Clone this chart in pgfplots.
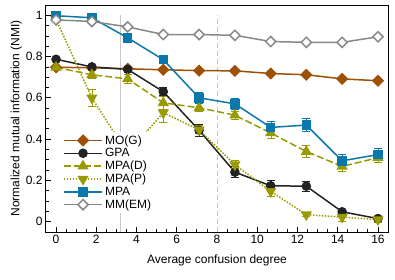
\documentclass[border=0pt]{standalone}
\usepackage{fontspec}
\setmainfont{Liberation Sans}
\usepackage{pgfplots}
\pgfplotsset{compat=1.18}
\usepackage{pgfplotstable}

\definecolor{cbrown}{RGB}{158,80,5}
\definecolor{cblack}{RGB}{34,34,34}
\definecolor{colive}{RGB}{153,153,0}
\definecolor{cblue}{RGB}{10,120,170}
\definecolor{cgray}{RGB}{136,136,136}
\definecolor{cvline}{RGB}{200,200,200}

\pgfplotstableread{
x     mog   mogE  gpa   gpaE  mpad  mpadE mpap  mpapE mpa   mpaE  mm    mmE
0     0.748 0.006 0.787 0.008 0.748 0.010 0.980 0.010 0.998 0.006 0.978 0.006
1.78  0.746 0.006 0.750 0.008 0.712 0.020 0.600 0.040 0.988 0.008 0.970 0.006
3.56  0.741 0.006 0.738 0.010 0.692 0.020 0.330 0.030 0.891 0.010 0.944 0.006
5.33  0.736 0.006 0.630 0.020 0.576 0.030 0.528 0.045 0.785 0.015 0.907 0.006
7.11  0.732 0.006 0.443 0.030 0.552 0.020 0.445 0.020 0.600 0.025 0.907 0.006
8.89  0.731 0.006 0.240 0.025 0.516 0.020 0.276 0.020 0.571 0.025 0.903 0.006
10.67 0.718 0.006 0.174 0.025 0.430 0.025 0.147 0.025 0.457 0.030 0.873 0.006
12.44 0.712 0.006 0.172 0.025 0.340 0.030 0.034 0.010 0.468 0.030 0.869 0.006
14.22 0.692 0.006 0.048 0.010 0.268 0.025 0.022 0.020 0.295 0.030 0.869 0.006
16    0.683 0.006 0.015 0.010 0.310 0.025 0.010 0.015 0.325 0.030 0.896 0.006
}\data

\begin{document}
\begin{tikzpicture}[font=\fontsize{12}{14}\selectfont]
\begin{axis}[
  name=ax,
  scale only axis,
  width=342pt, height=227pt,
  xmin=-0.5, xmax=16.5,
  ymin=-0.05, ymax=1.05,
  xtick={0,2,...,16},
  ytick={0,0.2,0.4,0.6,0.8,1},
  yticklabels={0,0.2,0.4,0.6,0.8,1},
  minor tick num=3,
  tick pos=left,
  tick align=inside,
  major tick length=5pt,
  minor tick length=3pt,
  tick style={black, line width=0.8pt},
  axis line style={black, line width=1pt},
  /pgf/number format/assume math mode=true,
  xlabel={Average confusion degree},
  ylabel={Normalized mutual information (NMI)},
  xlabel style={yshift=-4pt},
  ylabel style={yshift=-3pt},
  legend style={at={(0.046,0.44)}, anchor=north west, draw=none, fill=white,
    font=\fontsize{12}{13}\selectfont, row sep=-1.2pt, inner sep=1pt},
  legend cell align=left,
  legend image code/.code={
    \draw[mark repeat=2,mark phase=2,#1] plot coordinates {(0cm,0cm) (0.68cm,0cm) (1.36cm,0cm)};
  },
  every axis plot/.append style={line width=1.5pt},
  error bars/error mark options={rotate=90, mark size=4pt, line width=1pt},
]
\addplot[cvline, line width=1.2pt, forget plot] coordinates {(3.2,-0.05) (3.2,1.0)};
\addplot[cvline, line width=1pt, dash pattern=on 5pt off 3pt, forget plot] coordinates {(8,-0.05) (8,1.0)};

\addplot[cbrown, mark=square*, mark size=3.6pt, mark options={solid, fill=cbrown, rotate=45},
  error bars/.cd, y dir=both, y explicit]
  table[x=x, y=mog, y error=mogE] {\data};
\addlegendentry{MO(G)}

\addplot[cblack, mark=*, mark size=4pt, mark options={solid, fill=cblack},
  error bars/.cd, y dir=both, y explicit]
  table[x=x, y=gpa, y error=gpaE] {\data};
\addlegendentry{GPA}

\addplot[colive, dash pattern=on 7pt off 3pt, mark=triangle*, mark size=5pt, mark options={solid, fill=colive},
  error bars/.cd, y dir=both, y explicit, error bar style={solid}]
  table[x=x, y=mpad, y error=mpadE] {\data};
\addlegendentry{MPA(D)}

\addplot[colive, dash pattern=on 1.5pt off 1.5pt, mark=triangle*, mark size=5pt, mark options={solid, fill=colive, rotate=180},
  error bars/.cd, y dir=both, y explicit, error bar style={solid}]
  table[x=x, y=mpap, y error=mpapE] {\data};
\addlegendentry{MPA(P)}

\addplot[cblue, mark=square*, mark size=4pt, mark options={solid, fill=cblue},
  error bars/.cd, y dir=both, y explicit]
  table[x=x, y=mpa, y error=mpaE] {\data};
\addlegendentry{MPA}

\addplot[cgray, mark=square*, mark size=3.6pt, mark options={solid, fill=white, rotate=45},
  error bars/.cd, y dir=both, y explicit]
  table[x=x, y=mm, y error=mmE] {\data};
\addlegendentry{MM(EM)}
\end{axis}
\pgfresetboundingbox
\path ([shift={(-46pt,-47pt)}]ax.south west) rectangle ([shift={(7pt,5pt)}]ax.north east);
\end{tikzpicture}
\end{document}
